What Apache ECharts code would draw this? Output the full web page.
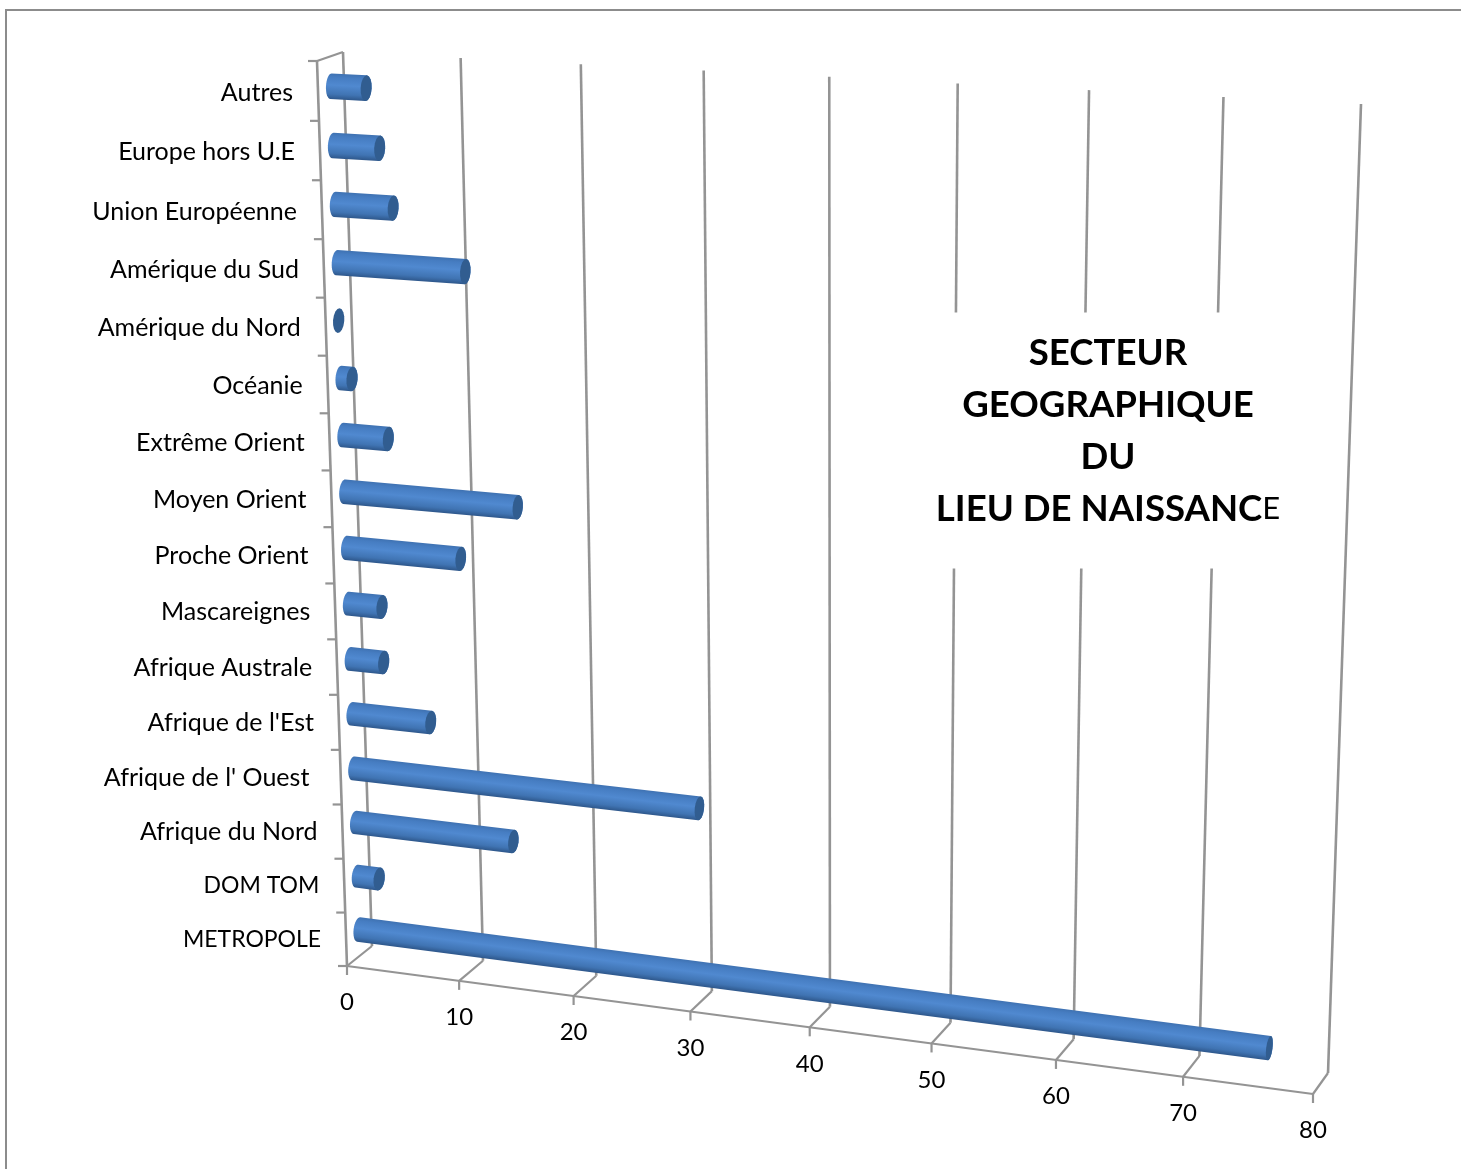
<!DOCTYPE html>
<html>
<head>
<meta charset="utf-8">
<style>html,body{margin:0;padding:0;background:#fff}#chart{width:1461px;height:1169px}</style>
<script src="https://cdn.jsdelivr.net/npm/echarts@6/dist/echarts.min.js"></script>
</head>
<body>
<div id="chart"></div>
<script>
// Birth-place sectors, listed from the floor of the chart upwards.
const categories = ['METROPOLE', 'DOM TOM', 'Afrique du Nord', "Afrique de l' Ouest ", "Afrique de l'Est", 'Afrique Australe', 'Mascareignes', 'Proche Orient', 'Moyen Orient', 'Extrême Orient', 'Océanie', 'Amérique du Nord', 'Amérique du Sud', 'Union Européenne', 'Europe hors U.E', 'Autres'];
const values = [76, 2, 14, 30, 7, 3, 3, 10, 15, 4, 1, 0, 11, 5, 4, 3];
const valueTicks = [0, 10, 20, 30, 40, 50, 60, 70, 80];

const GRID_SIZE = 1000;
const AXIS_MAX = 80;
const LINE = '#949494';
const FONT = '"Lato", "Open Sans", sans-serif';
const CATEGORY_SIZE = 25;
const CAPITALS_SIZE = 23;
const NUMBER_SIZE = 24;

// Screen corners of the chart box: (value 0, bottom), (value max, bottom), (value max, top), (value 0, top).
const FRONT_PLANE = [[347, 966], [1313, 1094], [1346, 113], [317, 61]];
const BACK_PLANE = [[372, 946], [1328, 1073], [1361, 104], [343, 52]];

// Builds the unit-square-to-quadrilateral perspective mapping.
function perspective(q) {
  const [[x0, y0], [x1, y1], [x2, y2], [x3, y3]] = q;
  const sx = x0 - x1 + x2 - x3, sy = y0 - y1 + y2 - y3;
  const dx1 = x1 - x2, dx2 = x3 - x2, dy1 = y1 - y2, dy2 = y3 - y2;
  const den = dx1 * dy2 - dx2 * dy1;
  const g = (sx * dy2 - dx2 * sy) / den, h = (dx1 * sy - sx * dy1) / den;
  const a = x1 - x0 + g * x1, b = x3 - x0 + h * x3;
  const d = y1 - y0 + g * y1, e = y3 - y0 + h * y3;
  return (u, v) => {
    const w = g * u + h * v + 1;
    return [(a * u + b * v + x0) / w, (d * u + e * v + y0) / w];
  };
}
const front = perspective(FRONT_PLANE);
const back = perspective(BACK_PLANE);

// u: along the value axis, v: up the category axis, depth: 0 at the front, 1 at the back wall.
function project(u, v, depth) {
  const f = front(u, v), b = back(u, v);
  return [f[0] + (b[0] - f[0]) * depth, f[1] + (b[1] - f[1]) * depth];
}
const unitX = px => px / GRID_SIZE;
const unitY = py => (GRID_SIZE - py) / GRID_SIZE;

const line = (a, b, w) => ({
  type: 'line',
  shape: { x1: a[0], y1: a[1], x2: b[0], y2: b[1] },
  style: { stroke: LINE, lineWidth: w || 2.2, fill: null }
});
const label = (text, x, y, align, size) => ({
  type: 'text',
  style: { text, x, y, align, verticalAlign: 'middle', font: size + 'px ' + FONT, fill: '#000' }
});

// Walls, floor lines, ticks and numbers of the value axis.
function renderValueTick(params, api) {
  const u = unitX(api.coord([api.value(0), 0])[0]);
  const fb = project(u, 0, 0), bb = project(u, 0, 1), bt = project(u, 1, 1);
  const children = [
    line(bb, bt, 2.6),
    line(fb, bb),
    line(fb, [fb[0], fb[1] + 9]),
    label(String(api.value(0)), fb[0], fb[1] + 36.5, 'center', NUMBER_SIZE)
  ];
  if (api.value(0) === 0) {
    children.push(line(fb, project(1, 0, 0)));
  }
  return { type: 'group', children };
}

// Ticks and names of the category axis.
function renderCategoryTick(params, api) {
  const idx = api.value(1);
  const c = api.coord([0, idx]);
  const band = api.size([0, 1])[1];
  const v = unitY(c[1]);
  const mid = project(0, v, 0);
  const low = project(0, unitY(c[1] + band / 2), 0);
  const name = categories[idx];
  const size = name === name.toUpperCase() ? CAPITALS_SIZE : CATEGORY_SIZE;
  const children = [
    line([low[0] - 9, low[1]], low),
    label(name, mid[0] - 25, mid[1] + 2 * v, 'right', size)
  ];
  if (idx === categories.length - 1) {
    const top = project(0, unitY(c[1] - band / 2), 0);
    children.push(line([top[0] - 9, top[1]], top));
    children.push(line(top, project(0, 1, 1)));
    children.push(line(project(0, 0, 0), top, 2.6));
  }
  return { type: 'group', children };
}

// Half an ellipse (or a full one) around a centre, long axis along the normal.
function arc(c, n, t, rn, rt, from, to) {
  const pts = [];
  for (let i = 0; i <= 16; i++) {
    const a = from + (to - from) * i / 16;
    pts.push([
      c[0] + n[0] * rn * Math.cos(a) + t[0] * rt * Math.sin(a),
      c[1] + n[1] * rn * Math.cos(a) + t[1] * rt * Math.sin(a)
    ]);
  }
  return pts;
}

// One cylinder lying at mid depth of the box.
function renderBar(params, api) {
  const val = api.value(0), idx = api.value(1);
  const band = api.size([0, 1])[1];
  const c0 = api.coord([0, idx]), c1 = api.coord([val, idx]);
  const v = unitY(c0[1]);
  const start = project(unitX(c0[0]), v, 0.5);
  const end = project(unitX(c1[0]), v, 0.5);
  const upper = project(unitX(c1[0]), v + band / 2 / GRID_SIZE, 0.5);
  const lower = project(unitX(c1[0]), v - band / 2 / GRID_SIZE, 0.5);
  const bandPx = Math.hypot(upper[0] - lower[0], upper[1] - lower[1]);
  const radius = bandPx * 0.215;
  const capWidth = 5.6 - 0.032 * val;
  const len = Math.hypot(end[0] - start[0], end[1] - start[1]);
  const t = len > 0 ? [(end[0] - start[0]) / len, (end[1] - start[1]) / len] : [1, 0.08];
  const n = [-t[1], t[0]];
  const children = [];
  if (val > 0) {
    const pts = arc(start, n, t, radius, 5, Math.PI * 2, Math.PI)
      .concat(arc(end, n, t, radius, capWidth, Math.PI, 0));
    children.push({
      type: 'polygon',
      shape: { points: pts },
      style: {
        fill: {
          type: 'linear', global: true,
          x: start[0] - n[0] * radius, y: start[1] - n[1] * radius,
          x2: start[0] + n[0] * radius, y2: start[1] + n[1] * radius,
          colorStops: [
            { offset: 0, color: '#3f72b2' },
            { offset: 0.15, color: '#467dc2' },
            { offset: 0.45, color: '#5089d0' },
            { offset: 0.8, color: '#4074b3' },
            { offset: 1, color: '#2e578b' }
          ]
        }
      }
    });
  }
  children.push({
    type: 'polygon',
    shape: { points: arc(end, n, t, radius, capWidth, 0, Math.PI * 2) },
    style: { fill: '#315d90' }
  });
  return { type: 'group', children };
}

const chart = echarts.init(document.getElementById('chart'), null, { renderer: 'canvas' });
chart.setOption({
  animation: false,
  backgroundColor: '#fff',
  title: {
    left: 1088,
    top: 305,
    textAlign: 'center',
    padding: [22, 20, 41, 20],
    backgroundColor: '#fff',
    text: '{b|SECTEUR}\n{b|GEOGRAPHIQUE}\n{b|DU}\n{b|LIEU DE NAISSANC}{s|E}',
    textStyle: {
      rich: {
        b: { fontFamily: FONT, fontWeight: 'bold', fontSize: 36.6, lineHeight: 52, color: '#000' },
        s: { fontFamily: FONT, fontWeight: 'normal', fontSize: 31, lineHeight: 52, color: '#000' }
      }
    }
  },
  grid: { left: 0, top: 0, width: GRID_SIZE, height: GRID_SIZE, containLabel: false },
  xAxis: { type: 'value', min: 0, max: AXIS_MAX, interval: 10, show: false },
  yAxis: { type: 'category', data: categories, show: false },
  graphic: [{
    type: 'rect',
    silent: true,
    z: 0,
    shape: { x: 6, y: 10, width: 1600, height: 1400 },
    style: { fill: null, stroke: '#8c8c8c', lineWidth: 2 }
  }],
  series: [
    {
      type: 'custom', name: 'value axis', silent: true, clip: false, z: 2,
      data: valueTicks.map(v => [v, 0]), encode: { x: 0, y: 1 },
      renderItem: renderValueTick
    },
    {
      type: 'custom', name: 'category axis', silent: true, clip: false, z: 2,
      data: categories.map((c, i) => [0, i]), encode: { x: 0, y: 1 },
      renderItem: renderCategoryTick
    },
    {
      type: 'custom', name: 'Secteur géographique', silent: true, clip: false, z: 3,
      data: values.map((v, i) => [v, i]), encode: { x: 0, y: 1 },
      renderItem: renderBar
    }
  ]
});
</script>
</body>
</html>
